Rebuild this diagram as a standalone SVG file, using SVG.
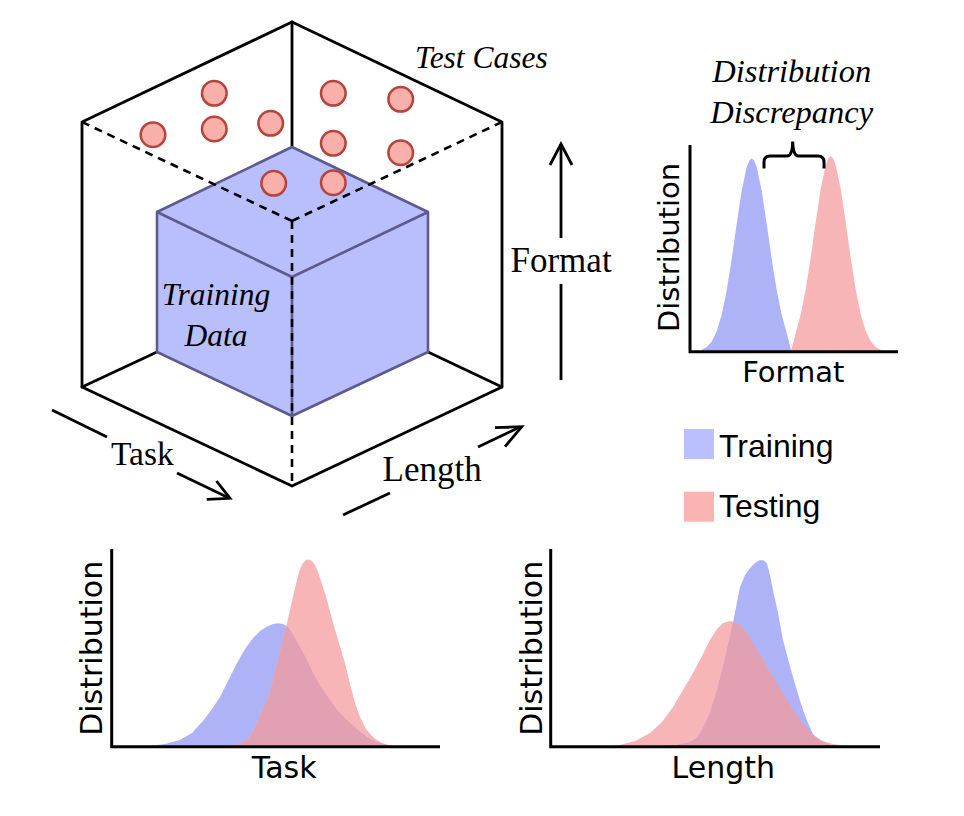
<svg xmlns="http://www.w3.org/2000/svg" width="964" height="816" viewBox="0 0 964 816">
<style>
.frame{stroke:#000;stroke-width:2.8;fill:none;stroke-linecap:round;stroke-linejoin:round}
.dash{stroke:#000;stroke-width:2.6;fill:none;stroke-dasharray:8 6}
.cube{fill:#b8bffc;stroke:#5c5a8f;stroke-width:2.6;stroke-linejoin:round}
.cubeedge{stroke:#5c5a8f;stroke-width:2.6;fill:none}
.tc{fill:#f9b0ab;stroke:#b5443a;stroke-width:2.5}
.arrow{stroke:#000;stroke-width:2.8;fill:none;stroke-linecap:butt;stroke-linejoin:miter}
.axis{stroke:#000;stroke-width:3;fill:none}
.serif{font-family:'Liberation Serif','Times New Roman',serif;fill:#000}
.it{font-style:italic}
.sans{font-family:'DejaVu Sans',sans-serif;fill:#000}
.leg{font-family:'Liberation Sans',Arial,sans-serif;fill:#000;font-size:32px}
.blue{fill:#aeb3f8}
.red{fill:#f8b5b8}
.ov{fill:#e2a1b3}
</style>
<defs>
<clipPath id="clipTaskBlue"><polygon points="150,746 165,744 180,740 192,733 203,721 212,709 220,697 228,681 237,663 245,649 253,638 260,631 267,626.5 273,624 278,623.3 283,624 288,627 294,636 300,647 307,660 313,673 321,687 330,700 338,711 347,720 357,729 367,737 377,742 387,745 395,746"/></clipPath>
<clipPath id="clipLenRed"><polygon points="610,746 620,745 635,741 650,733 662,722 673,707 683,690 693,673 702,656 710,640 717,629 723,623 730,621 735,622 740,625 747,633 753,643 763,660 773,677 783,693 793,710 803,724 813,735 823,741 833,744 847,746"/></clipPath>
</defs>

<g id="cube-frame">
<polyline class="frame" points="82,387 82,122 292,22 502,122 502,387 292,486 82,387"/>
<line class="frame" x1="292" y1="22" x2="292" y2="147"/>
<line class="frame" x1="82" y1="387" x2="157" y2="352"/>
<line class="frame" x1="502" y1="387" x2="428" y2="352"/>
</g>

<g id="training-data">
<polygon class="cube" points="292,147 428,212 428,352 292,416 157,352 157,212"/>
<polyline class="cubeedge" points="157,212 292,277 428,212"/>
<line class="cubeedge" x1="292" y1="277" x2="292" y2="416"/>
<text class="serif it" x="216" y="305" font-size="31.5" text-anchor="middle">Training</text>
<text class="serif it" x="216" y="346" font-size="31.5" text-anchor="middle">Data</text>
</g>

<g id="hidden-edges">
<line class="dash" x1="82" y1="122" x2="292" y2="221"/>
<line class="dash" x1="502" y1="122" x2="292" y2="221"/>
<line class="dash" x1="292" y1="221" x2="292" y2="486"/>
</g>

<g id="test-cases">
<circle class="tc" cx="214.3" cy="93.3" r="12.3"/>
<circle class="tc" cx="153" cy="134.7" r="12.3"/>
<circle class="tc" cx="214.3" cy="129" r="12.3"/>
<circle class="tc" cx="270.7" cy="123.3" r="12.3"/>
<circle class="tc" cx="333.3" cy="93.3" r="12.3"/>
<circle class="tc" cx="400.7" cy="99.3" r="12.3"/>
<circle class="tc" cx="333.3" cy="143.3" r="12.3"/>
<circle class="tc" cx="400.7" cy="152.7" r="12.3"/>
<circle class="tc" cx="273.7" cy="183.3" r="12.3"/>
<circle class="tc" cx="333.3" cy="182.7" r="12.3"/>
<text class="serif it" x="415" y="67.5" font-size="31.5">Test Cases</text>
</g>

<g id="connectors">
<line class="arrow" x1="561" y1="380" x2="561" y2="284"/>
<line class="arrow" x1="561" y1="238" x2="561" y2="144"/>
<polyline class="arrow" points="550,165 561,144 572,165"/>
<line class="arrow" x1="52" y1="410" x2="107" y2="437"/>
<line class="arrow" x1="177" y1="473" x2="229" y2="498"/>
<polyline class="arrow" points="216.5,481 230,498.3 206.7,499.3"/>
<line class="arrow" x1="343" y1="515" x2="390" y2="493"/>
<line class="arrow" x1="478" y1="447" x2="520" y2="427"/>
<polyline class="arrow" points="495,427.7 521.7,426.7 505,446.7"/>
</g>

<g id="axis-labels">
<text class="serif" x="510.5" y="271.7" font-size="35">Format</text>
<text class="serif" x="111" y="465" font-size="33.5">Task</text>
<text class="serif" x="382.5" y="480.7" font-size="35">Length</text>
</g>

<g id="format-chart">
<polygon class="blue" points="700,351.7 701.7,349.7 706.7,347 711.7,341.4 716.7,331.3 721.7,314.7 726.7,290.3 731.7,258.9 736.7,223.8 741.7,190.8 746.7,167 749.5,160.5 751.7,158.3 754,160.5 756.7,167 761.7,190.8 766.7,223.8 771.7,258.9 776.7,290.3 781.7,314.7 786.7,333 789.7,345 791.5,351.7"/>
<polygon class="red" points="790.5,351.7 792.7,345 795.7,333 800.7,314.3 805.7,289.6 810.7,257.8 815.7,222.3 820.7,189 825.7,164.8 828.5,158.2 830.7,156 833,158.2 835.7,164.8 840.7,189 845.7,222.3 850.7,257.8 855.7,289.6 860.7,314.3 865.7,331.1 870.7,341.3 875.7,347 880.7,349.7 884,351.7"/>
<polyline class="axis" points="690,145 690,351.7 898,351.7"/>
<path class="axis" d="M764,168.5 L764,162 Q764,156 770,156 L787,156 Q792.5,156 792.7,141.5 Q793,156 798.5,156 L818,156 Q824,156 824,162 L824,168.5"/>
<text class="serif it" x="791.7" y="82.3" font-size="32.5" text-anchor="middle">Distribution</text>
<text class="serif it" x="791.7" y="123.3" font-size="32.5" text-anchor="middle">Discrepancy</text>
<text class="sans" x="793.3" y="381.7" font-size="29" text-anchor="middle">Format</text>
<text class="sans" transform="translate(678.5,247.5) rotate(-90)" font-size="29" text-anchor="middle">Distribution</text>
</g>

<g id="legend">
<rect x="684" y="429" width="30" height="30" fill="#babffd"/>
<text class="leg" x="719" y="456.7">Training</text>
<rect x="684" y="491.7" width="30" height="30" fill="#f9b4b3"/>
<text class="leg" x="719" y="516.5">Testing</text>
</g>

<g id="task-chart">
<polygon class="blue" points="150,746 165,744 180,740 192,733 203,721 212,709 220,697 228,681 237,663 245,649 253,638 260,631 267,626.5 273,624 278,623.3 283,624 288,627 294,636 300,647 307,660 313,673 321,687 330,700 338,711 347,720 357,729 367,737 377,742 387,745 395,746"/>
<polygon class="red" points="228,746 240,744 248,739 253,731 258,720 262,710 267,700 272,683 277,663 282,643 287,623 292,601 297,580 300,569 303,563 306,560 309,559.5 312,561 315,565 318,572 322,584 327,600 333,623 339,643 345,663 350,684 355,703 360,717 366,729 374,738 382,743 392,746"/>
<polygon class="ov" clip-path="url(#clipTaskBlue)" points="228,746 240,744 248,739 253,731 258,720 262,710 267,700 272,683 277,663 282,643 287,623 292,601 297,580 300,569 303,563 306,560 309,559.5 312,561 315,565 318,572 322,584 327,600 333,623 339,643 345,663 350,684 355,703 360,717 366,729 374,738 382,743 392,746"/>
<polyline class="axis" points="111.7,549 111.7,746.7 440,746.7"/>
<text class="sans" x="284.2" y="778.3" font-size="30" text-anchor="middle">Task</text>
<text class="sans" transform="translate(101.5,648.3) rotate(-90)" font-size="30" text-anchor="middle">Distribution</text>
</g>

<g id="length-chart">
<polygon class="red" points="610,746 620,745 635,741 650,733 662,722 673,707 683,690 693,673 702,656 710,640 717,629 723,623 730,621 735,622 740,625 747,633 753,643 763,660 773,677 783,693 793,710 803,724 813,735 823,741 833,744 847,746"/>
<polygon class="blue" points="665,746 677,745 690,742 697,738 703,728 710,713 717,690 723,667 728,645 733,623 737,602 740,587 745,575 750,568 755,563 760,560 764,560.5 767,563.5 770,575 773,590 778,613 783,640 788,659 793,677 798,694 803,710 808,723 813,734 820,741 830,745 840,746"/>
<polygon class="ov" clip-path="url(#clipLenRed)" points="665,746 677,745 690,742 697,738 703,728 710,713 717,690 723,667 728,645 733,623 737,602 740,587 745,575 750,568 755,563 760,560 764,560.5 767,563.5 770,575 773,590 778,613 783,640 788,659 793,677 798,694 803,710 808,723 813,734 820,741 830,745 840,746"/>
<polyline class="axis" points="550.7,549 550.7,746.7 880,746.7"/>
<text class="sans" x="723.3" y="778.3" font-size="30" text-anchor="middle">Length</text>
<text class="sans" transform="translate(541.5,648.3) rotate(-90)" font-size="30" text-anchor="middle">Distribution</text>
</g>
</svg>
